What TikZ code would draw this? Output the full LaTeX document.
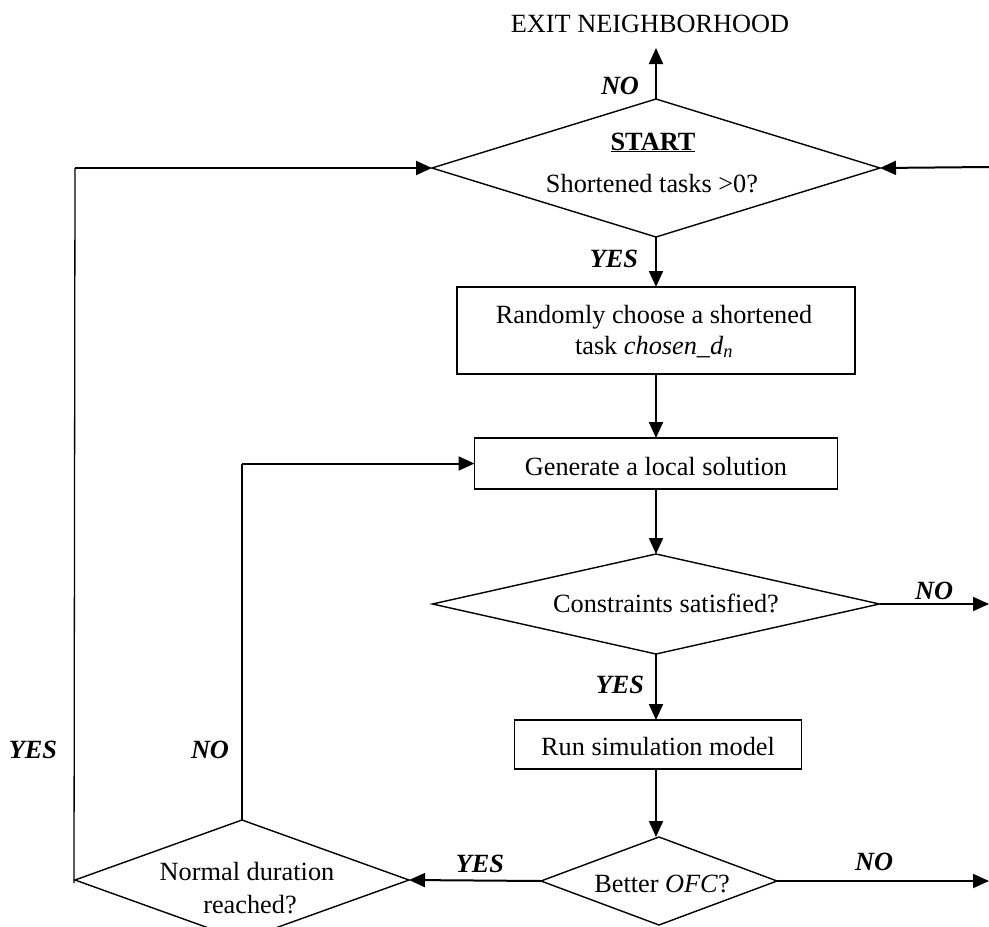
\documentclass[tikz,border=0pt]{standalone}
\usepackage{fontspec}
\setmainfont{Liberation Serif}
\usetikzlibrary{shapes.geometric,arrows.meta}
\tikzset{
  dia/.style={diamond, draw, line width=1.4pt, inner sep=0pt, outer sep=0pt},
  boxn/.style={rectangle, draw, line width=1.4pt, inner sep=0pt, outer sep=0pt},
  txt/.style={anchor=base, inner sep=0pt, font=\fontsize{26.3}{31}\selectfont},
  lbl/.style={anchor=base, inner sep=0pt, font=\fontsize{26.3}{31}\selectfont\bfseries\itshape},
  conn/.style={line width=2pt, -{Triangle[length=16pt,width=14pt]}},
  thinline/.style={line width=1.3pt},
}
\begin{document}
\begin{tikzpicture}[x=1pt,y=-1pt]
\useasboundingbox[fill=white] (0,0) rectangle (989,927);

% shapes
\node[dia, minimum width=448pt, minimum height=138pt] (start) at (656,168) {};
\node[boxn, minimum width=398pt, minimum height=87pt] (box1) at (656,330.5) {};
\node[boxn, minimum width=363pt, minimum height=51pt] (box2) at (656,463.5) {};
\node[dia, minimum width=447pt, minimum height=100pt] (cons) at (656,604) {};
\node[boxn, minimum width=287pt, minimum height=49pt] (box3) at (658,744.5) {};
\node[dia, minimum width=236pt, minimum height=88pt] (ofc) at (659,881) {};
\node[dia, minimum width=334pt, minimum height=120pt] (normal) at (242,880) {};

% texts
\node[txt] (exit) at (650,32) {EXIT NEIGHBORHOOD};
\node[txt] (tstart) at (653,150) {\bfseries\underline{START}};
\node[txt] (tshort) at (652,192) {Shortened tasks >0?};
\node[txt] (trand1) at (654,323) {Randomly choose a shortened};
\node[txt] (trand2) at (654,354) {task {\itshape chosen\_d\textsubscript{n}}};
\node[txt] (tgen) at (656,475) {Generate a local solution};
\node[txt] (tcons) at (666,612) {Constraints satisfied?};
\node[txt] (trun) at (658,755) {Run simulation model};
\node[txt] (tofc) at (662,892) {Better \textit{OFC}?};
\node[txt] (tnorm1) at (247,880) {Normal duration};
\node[txt] (tnorm2) at (250,913) {reached?};

% labels
\node[lbl] (lno1) at (620,94) {NO};
\node[lbl] (lyes1) at (614,267) {YES};
\node[lbl] (lno2) at (934,599) {NO};
\node[lbl] (lyes2) at (620,693) {YES};
\node[lbl] (lyes3) at (480,872) {YES};
\node[lbl] (lno3) at (874,870) {NO};
\node[lbl] (lyes4) at (33,758) {YES};
\node[lbl] (lno4) at (210,758) {NO};

% free ends
\coordinate (exitpt) at (656,48);
\coordinate (rin) at (989,167);
\coordinate (rout1) at (989,604);
\coordinate (rout2) at (989,881);

% connectors
\draw[conn] (start.north) -- (exitpt);
\draw[conn] (rin) -- (start.east);
\draw[conn] (start.south) -- (box1.north);
\draw[conn] (box1.south) -- (box2.north);
\draw[conn] (box2.south) -- (cons.north);
\draw[conn] (cons.east) -- (rout1);
\draw[conn] (cons.south) -- (cons.south |- box3.north);
\draw[conn] (box3.south -| cons.south) -- (cons.south |- ofc.north);
\draw[conn] (ofc.west) -- (normal.east);
\draw[conn] (ofc.east) -- (rout2);
\draw[thinline] (normal.north) -- (normal.north |- box2.west);
\draw[conn] (normal.north |- box2.west) -- (box2.west);
\draw[thinline] (normal.west) ++(-1,3) -- (normal.west |- start.west);
\draw[conn] (normal.west |- start.west) -- (start.west);
\end{tikzpicture}
\end{document}
